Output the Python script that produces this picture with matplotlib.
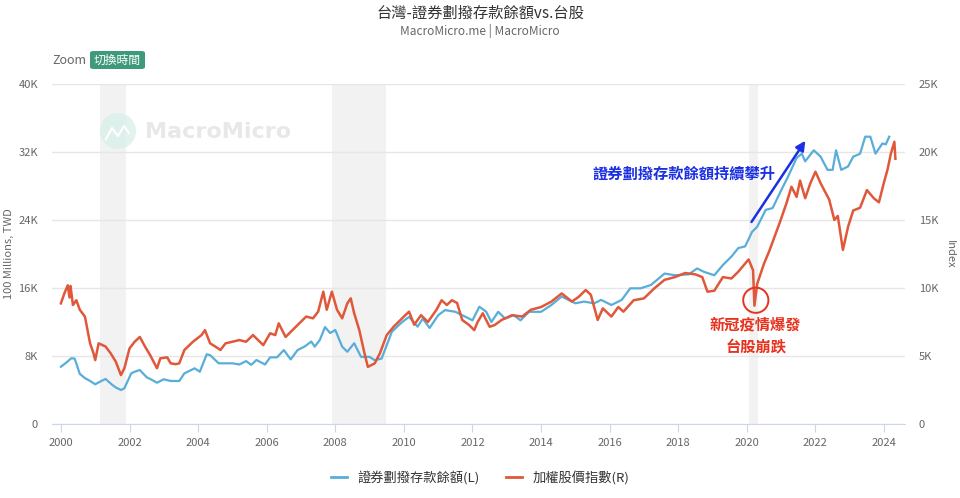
import matplotlib.pyplot as plt
from matplotlib.patches import FancyBboxPatch, Ellipse
from matplotlib.lines import Line2D

plt.rcParams['font.family'] = ['Noto Sans CJK TC', 'DejaVu Sans']

# 證券劃撥存款餘額 (100 Millions TWD, in K) - left axis
dep_year = [2000.0, 2000.15, 2000.3, 2000.4, 2000.55, 2000.7, 2000.85, 2001.0, 2001.15, 2001.3,
            2001.5, 2001.6, 2001.75, 2001.85, 2002.05, 2002.15, 2002.3, 2002.5, 2002.65, 2002.8,
            2003.0, 2003.2, 2003.45, 2003.6, 2003.9, 2004.05, 2004.25, 2004.35, 2004.6, 2004.8,
            2005.0, 2005.2, 2005.4, 2005.55, 2005.7, 2005.95, 2006.1, 2006.3, 2006.5, 2006.7,
            2006.9, 2007.1, 2007.3, 2007.4, 2007.55, 2007.7, 2007.85, 2008.0, 2008.2, 2008.35,
            2008.55, 2008.75, 2009.0, 2009.15, 2009.35, 2009.65, 2009.95, 2010.15, 2010.4, 2010.55,
            2010.75, 2011.0, 2011.2, 2011.5, 2011.7, 2012.0, 2012.2, 2012.4, 2012.55, 2012.75,
            2012.95, 2013.2, 2013.4, 2013.65, 2014.0, 2014.3, 2014.6, 2015.0, 2015.25, 2015.55,
            2015.75, 2016.05, 2016.35, 2016.6, 2016.9, 2017.2, 2017.6, 2017.9, 2018.3, 2018.55,
            2018.75, 2019.05, 2019.3, 2019.55, 2019.75, 2019.95, 2020.15, 2020.3, 2020.55, 2020.75,
            2021.0, 2021.2, 2021.45, 2021.6, 2021.7, 2021.95, 2022.15, 2022.35, 2022.5, 2022.6,
            2022.75, 2022.95, 2023.1, 2023.3, 2023.45, 2023.6, 2023.75, 2023.95, 2024.05, 2024.15]
dep_val = [6.74, 7.2, 7.73, 7.7, 5.9, 5.4, 5.06, 4.67, 5.0, 5.3,
           4.59, 4.3, 4.0, 4.2, 5.96, 6.15, 6.35, 5.5, 5.2, 4.86,
           5.26, 5.06, 5.06, 5.96, 6.55, 6.15, 8.2, 8.1, 7.14, 7.14,
           7.14, 7.0, 7.4, 6.96, 7.53, 7.0, 7.84, 7.84, 8.7, 7.6,
           8.7, 9.1, 9.7, 9.1, 9.9, 11.4, 10.7, 11.06, 9.1, 8.5,
           9.5, 7.9, 7.9, 7.5, 7.7, 10.86, 12.0, 12.6, 11.45, 12.4,
           11.3, 12.8, 13.4, 13.2, 12.8, 12.2, 13.8, 13.2, 12.0, 13.2,
           12.4, 12.8, 12.2, 13.2, 13.2, 14.0, 15.0, 14.2, 14.4, 14.2,
           14.6, 14.0, 14.6, 15.96, 15.96, 16.35, 17.7, 17.5, 17.6, 18.3,
           17.9, 17.5, 18.7, 19.7, 20.7, 20.9, 22.6, 23.2, 25.2, 25.4,
           27.5, 29.1, 31.3, 31.8, 30.9, 32.2, 31.45, 29.9, 29.9, 32.2,
           29.9, 30.3, 31.45, 31.8, 33.8, 33.8, 31.8, 33.0, 32.9, 33.8]

# 加權股價指數 (K) - right axis
twi_year = [2000.0, 2000.1, 2000.2, 2000.25, 2000.28, 2000.35, 2000.45, 2000.55, 2000.7, 2000.85,
            2000.95, 2001.0, 2001.1, 2001.3, 2001.45, 2001.6, 2001.75, 2001.85, 2002.0, 2002.15,
            2002.3, 2002.45, 2002.6, 2002.8, 2002.9, 2003.1, 2003.2, 2003.35, 2003.45, 2003.6,
            2003.85, 2004.1, 2004.2, 2004.35, 2004.5, 2004.65, 2004.8, 2005.0, 2005.2, 2005.4,
            2005.6, 2005.9, 2006.1, 2006.25, 2006.35, 2006.55, 2006.85, 2007.15, 2007.35, 2007.5,
            2007.65, 2007.75, 2007.9, 2008.05, 2008.2, 2008.35, 2008.45, 2008.55, 2008.7, 2008.85,
            2008.95, 2009.15, 2009.3, 2009.5, 2009.7, 2010.0, 2010.15, 2010.3, 2010.5, 2010.7,
            2010.95, 2011.1, 2011.25, 2011.4, 2011.55, 2011.7, 2011.9, 2012.05, 2012.15, 2012.3,
            2012.5, 2012.65, 2012.85, 2013.15, 2013.45, 2013.7, 2014.0, 2014.3, 2014.6, 2014.9,
            2015.1, 2015.3, 2015.45, 2015.65, 2015.8, 2016.05, 2016.25, 2016.4, 2016.7, 2017.0,
            2017.3, 2017.6, 2017.9, 2018.2, 2018.5, 2018.7, 2018.85, 2019.05, 2019.3, 2019.55,
            2019.75, 2020.05, 2020.18, 2020.22, 2020.3, 2020.5, 2020.65, 2020.95, 2021.15, 2021.3,
            2021.45, 2021.55, 2021.7, 2021.85, 2022.0, 2022.15, 2022.4, 2022.55, 2022.65, 2022.8,
            2022.95, 2023.1, 2023.3, 2023.5, 2023.7, 2023.85, 2024.0, 2024.1, 2024.2, 2024.3, 2024.33]
twi_val = [8.87, 9.6, 10.2, 9.3, 10.15, 8.75, 9.1, 8.4, 7.9, 5.93,
           5.2, 4.7, 5.93, 5.7, 5.2, 4.58, 3.6, 4.1, 5.56, 6.05,
           6.4, 5.7, 5.07, 4.1, 4.83, 4.9, 4.46, 4.4, 4.46, 5.44,
           6.05, 6.54, 6.9, 5.93, 5.7, 5.44, 5.93, 6.05, 6.17, 6.05,
           6.54, 5.8, 6.67, 6.54, 7.4, 6.4, 7.15, 7.9, 7.77, 8.26,
           9.73, 8.4, 9.73, 8.4, 7.77, 8.87, 9.24, 8.14, 6.9, 5.2,
           4.2, 4.46, 5.2, 6.54, 7.15, 7.9, 8.26, 7.3, 8.0, 7.5,
           8.4, 9.1, 8.75, 9.1, 8.9, 7.65, 7.28, 6.9, 7.5, 8.14,
           7.15, 7.28, 7.65, 8.0, 7.9, 8.4, 8.6, 9.0, 9.6, 9.0,
           9.36, 9.85, 9.5, 7.65, 8.5, 7.9, 8.6, 8.26, 9.1, 9.24,
           9.97, 10.6, 10.8, 11.1, 11.0, 10.8, 9.73, 9.8, 10.8, 10.7,
           11.2, 12.1, 11.3, 8.7, 10.3, 11.8, 12.7, 14.75, 16.2, 17.45,
           16.7, 17.9, 16.6, 17.7, 18.55, 17.7, 16.5, 15.0, 15.3, 12.8,
           14.5, 15.7, 15.9, 17.2, 16.6, 16.3, 17.8, 18.7, 19.9, 20.75, 19.5]

# recession shading
shade_start = [2001.14, 2007.9, 2020.06]
shade_end = [2001.9, 2009.48, 2020.32]

left_ticks = [0, 8, 16, 24, 32, 40]
right_ticks = [0, 5, 10, 15, 20, 25]
year_ticks = list(range(2000, 2025, 2))

blue = '#58aed8'
red = '#e0573a'
grey = '#666666'

W, H = 960, 498
fig = plt.figure(figsize=(9.6, 4.98), dpi=100)

def fx(px):
    return px / W

def fy(py):
    return 1 - py / H

ax = fig.add_axes([fx(52), fy(424), fx(905) - fx(52), fy(84) - fy(424)])
ax2 = ax.twinx()

for s, e in zip(shade_start, shade_end):
    ax.axvspan(s, e, color='#f2f2f2', zorder=0, lw=0)

ax.plot(dep_year, dep_val, color=blue, lw=1.6, zorder=3)
ax2.plot(twi_year, twi_val, color=red, lw=1.8, zorder=3)

ax.set_xlim(1999.74, 2024.61)
ax.set_ylim(0, 40)
ax2.set_ylim(0, 25)
ax.set_xticks(year_ticks)
ax.set_xticklabels([str(y) for y in year_ticks])
ax.set_yticks(left_ticks)
ax.set_yticklabels(['0' if v == 0 else f'{v}K' for v in left_ticks])
ax2.set_yticks(right_ticks)
ax2.set_yticklabels(['0' if v == 0 else f'{v}K' for v in right_ticks])

ax.grid(axis='y', color='#e6e6e6', lw=1)
ax.set_axisbelow(True)
for a in (ax, ax2):
    for sp in a.spines.values():
        sp.set_visible(False)
ax.spines['bottom'].set_visible(True)
ax.spines['bottom'].set_color('#ccd6eb')
ax.tick_params(axis='x', colors='#ccd6eb', labelcolor=grey, labelsize=8, length=6, pad=4)
ax.tick_params(axis='y', length=0, labelcolor=grey, labelsize=8, pad=10)
ax2.tick_params(axis='y', length=0, labelcolor=grey, labelsize=8, pad=10)
ax.set_ylabel('100 Millions, TWD', color=grey, fontsize=8, labelpad=3)
ax2.set_ylabel('Index', color=grey, fontsize=8, rotation=270, labelpad=12)

# annotations
ax.annotate('', xy=(2021.75, 33.6), xytext=(2020.09, 23.5),
            arrowprops=dict(arrowstyle='-|>', color='#1b2fe3', lw=1.8, mutation_scale=14), zorder=5)
ax.text(2020.82, 29.4, '證券劃撥存款餘額持續攀升', color='#1b2fe3', fontsize=11,
        fontweight='bold', ha='right', va='center', zorder=5)
ax2.scatter([2020.26], [9.1], s=330, facecolors='none', edgecolors='#e8321e', linewidths=1.4, zorder=6)
ax2.text(2020.26, 7.3, '新冠疫情爆發', color='#e8321e', fontsize=11, fontweight='bold',
         ha='center', va='center', zorder=6)
ax2.text(2020.26, 5.7, '台股崩跌', color='#e8321e', fontsize=11, fontweight='bold',
         ha='center', va='center', zorder=6)

# title
fig.text(0.5, fy(13), '台灣-證券劃撥存款餘額vs.台股', ha='center', va='center', fontsize=11, color='#333333')
fig.text(0.5, fy(31), 'MacroMicro.me | MacroMicro', ha='center', va='center', fontsize=8.5, color=grey)

# zoom button
fig.text(fx(52), fy(60), 'Zoom', ha='left', va='center', fontsize=9, color=grey)
fig.patches.append(FancyBboxPatch((fx(90), fy(69)), fx(55), fy(51) - fy(69),
                                  boxstyle='round,pad=0,rounding_size=0.004',
                                  transform=fig.transFigure, fc='#3f9a7b', ec='none'))
fig.text(fx(117.5), fy(60), '切換時間', ha='center', va='center', fontsize=8.5, color='white')

# watermark
fig.patches.append(Ellipse((fx(118), fy(131)), fx(36), 36 / H, transform=fig.transFigure,
                           fc='#d9f0ea', ec='none', alpha=0.8, zorder=1))
fig.lines.append(Line2D([fx(106), fx(112), fx(118), fx(124), fx(129)],
                        [fy(139), fy(128), fy(136), fy(126), fy(133)],
                        transform=fig.transFigure, color='white', lw=1.5))
fig.text(fx(145), fy(132), 'MacroMicro', ha='left', va='center', fontsize=16, fontweight='bold',
         color='#e6e8ea', family=['DejaVu Sans'])

# legend
handles = [Line2D([], [], color=blue, lw=2), Line2D([], [], color=red, lw=2)]
fig.legend(handles, ['證券劃撥存款餘額(L)', '加權股價指數(R)'], loc='center',
           bbox_to_anchor=(0.5, fy(478)), ncol=2, frameon=False, fontsize=9.5,
           handlelength=1.2, columnspacing=2.0, labelcolor='#333333')

fig.savefig('out.png', dpi=100)
